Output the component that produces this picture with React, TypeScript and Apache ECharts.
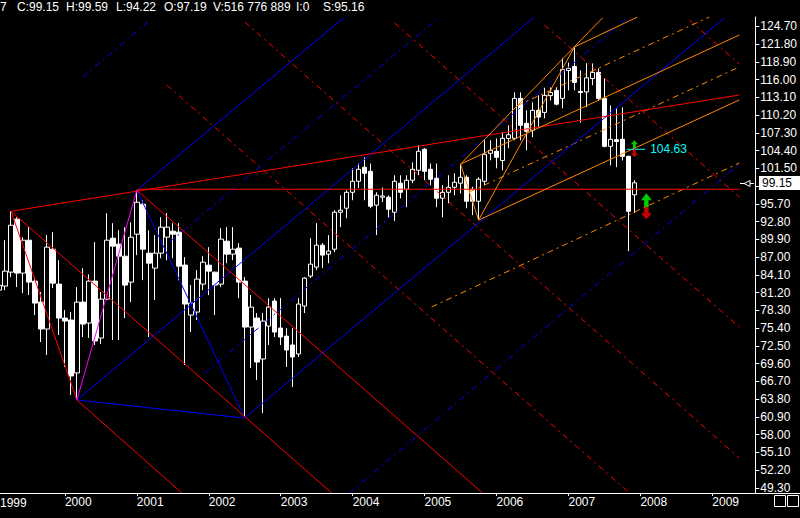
import React, { useEffect, useRef } from "react";
import * as echarts from "echarts";

// Month index: 0 = January 2000, one candle per month
const FIRST_MONTH = -11;

const opens = [
  81.6, 82.27, 84.55, 93.2, 84.39, 89.77, 83.08, 79.65, 75.25, 88.3, 82.59,
  77.04, 76.72, 68.07, 79.65, 76.23, 83.08, 73.78, 80.14, 90.1, 89.12, 87.16, 82.92,
  90.75, 95.65, 87.65, 85.2, 87.65, 90.26, 91.24, 91.08, 85.7, 77.53, 78.02, 82.59,
  85.69, 84.55, 82.59, 89.61, 87.49, 88.47, 83.08, 75.57, 77.04, 70.35, 75.74, 79.82,
  75.41, 74.1, 72.64, 71.17, 79.0, 83.9, 85.37, 88.96, 87.49, 88.3, 94.34, 95.0,
  97.6, 99.4, 101.69, 101.03, 95.49, 96.8, 96.79, 94.34, 99.08, 98.1, 99.57, 101.2,
  104.63, 101.36, 99.9, 96.63, 97.6, 98.42, 99.08, 100.06, 98.1, 96.14, 99.4, 103.97,
  104.3, 102.8, 106.4, 106.42, 112.95, 108.87, 107.73, 111.0, 110.66, 113.4, 114.25, 112.95,
  117.5, 118.17, 114.1, 114.0, 116.2, 117.2, 112.95, 105.11, 106.2, 106.26, 103.48, 97.19,
];
const closes = [
  82.4, 84.71, 92.22, 84.39, 89.77, 82.92, 79.49, 75.25, 88.63, 82.75, 77.04,
  76.55, 67.58, 79.65, 76.06, 83.08, 73.3, 80.14, 89.77, 88.8, 87.16, 82.43, 90.26,
  95.98, 88.3, 86.02, 87.65, 91.9, 91.9, 90.75, 85.53, 79.33, 79.49, 83.41, 86.18,
  84.71, 82.43, 89.94, 87.49, 88.3, 82.92, 75.57, 78.84, 69.86, 76.55, 78.84, 74.76,
  73.94, 71.82, 70.68, 79.33, 83.57, 85.86, 88.96, 87.33, 88.0, 94.34, 94.67, 97.6,
  99.4, 101.36, 100.7, 95.32, 97.12, 97.0, 94.83, 99.4, 97.6, 99.57, 101.36, 104.3,
  101.03, 99.73, 96.63, 97.6, 98.42, 99.24, 100.06, 96.14, 96.14, 99.73, 103.81, 104.46,
  103.32, 106.42, 107.0, 112.95, 108.54, 107.56, 111.0, 109.9, 113.44, 113.9, 112.0, 117.68,
  117.85, 115.56, 113.9, 116.3, 117.2, 112.95, 105.11, 106.26, 105.9, 103.48, 94.5, 99.15,
];
const lows = [
  80.5, 81.6, 83.73, 82.1, 81.12, 80.8, 77.53, 73.13, 71.0, 81.94, 74.27,
  69.05, 64.47, 63.65, 73.94, 73.78, 72.64, 72.8, 79.98, 73.45, 73.45, 77.04, 79.65,
  87.32, 83.24, 73.94, 80.0, 86.83, 86.5, 86.83, 83.24, 69.37, 74.76, 76.72, 81.61,
  80.8, 77.53, 82.1, 86.0, 86.5, 80.3, 60.7, 68.88, 66.92, 61.5, 72.64, 73.94,
  72.64, 69.05, 65.78, 70.68, 77.86, 83.57, 84.88, 85.2, 86.0, 87.8, 91.9, 93.36,
  96.3, 98.3, 96.3, 95.0, 90.6, 96.0, 93.5, 92.9, 96.6, 95.16, 99.08, 100.4,
  99.57, 98.75, 95.16, 93.5, 95.81, 97.1, 97.4, 95.0, 93.85, 93.05, 98.75, 102.83,
  101.52, 101.2, 104.8, 106.1, 106.1, 104.46, 106.6, 108.2, 109.68, 112.6, 111.8, 111.32,
  114.25, 114.25, 109.0, 111.5, 115.1, 112.62, 104.95, 102.0, 101.7, 102.8, 87.98, 94.22,
];
const highs = [
  83.5, 89.77, 94.5, 93.5, 90.26, 91.9, 83.73, 81.3, 90.6, 91.08, 86.5,
  78.35, 78.02, 82.1, 85.2, 84.2, 89.45, 81.3, 94.18, 92.55, 91.4, 91.9, 92.7,
  97.95, 96.3, 91.4, 90.6, 93.53, 94.2, 92.55, 92.55, 87.0, 82.43, 84.88, 87.16,
  88.63, 84.6, 91.73, 91.9, 91.9, 89.3, 83.73, 80.8, 77.86, 77.86, 80.3, 80.3,
  80.3, 75.4, 75.4, 80.3, 83.73, 90.1, 92.55, 89.3, 90.6, 94.67, 97.1, 97.93,
  101.52, 102.3, 103.3, 102.3, 97.6, 98.4, 97.1, 100.38, 100.38, 100.38, 102.5, 105.28,
  104.8, 102.3, 102.3, 98.75, 100.38, 100.7, 102.2, 100.38, 98.5, 100.06, 106.1, 106.1,
  106.4, 107.4, 108.54, 113.93, 113.93, 111.0, 112.3, 113.44, 114.74, 114.74, 114.74, 119.5,
  118.8, 121.35, 117.5, 118.7, 118.66, 117.85, 116.2, 111.8, 111.3, 111.48, 103.6, 99.59,
];

// Axis ticks
const yearTicks = [-12, 0, 12, 24, 36, 48, 60, 72, 84, 96, 108];
const yearLabels = ["1999", "2000", "2001", "2002", "2003", "2004", "2005", "2006", "2007", "2008", "2009"];
const priceTicks = [
  49.3, 52.2, 55.1, 58.0, 60.9, 63.8, 66.7, 69.6, 72.5, 75.4, 78.3, 81.2, 84.1, 87.0,
  89.9, 92.8, 95.7, 98.6, 101.5, 104.4, 107.3, 110.2, 113.1, 116.0, 118.9, 121.8, 124.7,
];

// Header read-out
const headerTexts = ["7", "C:99.15", "H:99.59", "L:94.22", "O:97.19", "V:516 776 889", "I:0", "S:95.16"];

// Swing pivots [month, price]
const pivotA = [-9, 94.5];
const pivotB = [12, 97.95];
const pivotC = [2, 63.65];
const pivotD = [30, 60.7];
const pivotE = [66, 102.2];
const pivotF = [69, 93.05];
const pivotG = [85, 121.35];

// Trend lines [[month, price], [month, price]]
const redSolidLines = [
  [pivotA, [112.5, 113.5]],
  [pivotA, pivotC],
  [pivotB, [69.67, 48.45]],
  [pivotA, [44.5, 48.45]],
  [pivotC, [19.5, 48.45]],
  [[12, 98.1], [112.5, 98.1]],
];
const redDashedLines = [
  [[17, 115.14], [94.17, 48.45]],
  [[30, 125.44], [112.5, 54.17]],
  [[55, 125.27], [112.5, 75.58]],
  [[80, 124.95], [112.5, 96.83]],
  [[104.17, 125.76], [112.5, 118.57]],
];
const blueSolidLines = [
  [pivotB, [46.67, 126.25]],
  [pivotC, [78.33, 126.25]],
  [pivotD, [110, 126.09]],
  [pivotB, pivotD],
  [pivotC, pivotD],
];
const blueDashedLines = [
  [[3, 116.45], [13.83, 125.44]],
  [[17.5, 89.48], [62.5, 126.25]],
  [[23.33, 68.06], [94, 126.25]],
  [[47.5, 48.45], [112.5, 102.23]],
];
const magentaLines = [[pivotC, pivotB]];
const orangeSolidLines = [
  [pivotE, [89.67, 126.1]],
  [pivotF, pivotG],
  [pivotE, pivotF],
  [pivotE, [112.5, 123.31]],
  [pivotF, [112.5, 112.69]],
  [pivotG, [95.5, 126.25]],
];
const orangeDashedLines = [
  [[61.17, 78.85], [112.5, 102.39]],
  [[67.5, 97.65], [112.5, 118.08]],
  [[75.5, 111.78], [107.5, 126.25]],
];

// Signals
const alertMonth = 95;
const alertLevel = 104.63;
const alertLine = [[93.7, 104.63], [96.8, 104.63]];
const stopMonth = 97;
const stopLevel = 95.16;
const lastClose = 99.15;

const FONT = "Liberation Sans";
const DASH = [6, 4, 2, 4];
const UP_ARROW = "path://M5,0L10,6L7,6L7,12L3,12L3,6L0,6Z";
const DOWN_ARROW = "path://M3,0L7,0L7,6L10,6L5,12L0,6L3,6Z";
const X_MIN = -65 / 6;
const X_MAX = 112.5;

function lineSeries(lines: number[][][], color: string, dashed: boolean) {
  return lines.map((pts) => ({
    type: "line",
    data: pts,
    showSymbol: false,
    symbol: "none",
    silent: true,
    z: 3,
    lineStyle: { color, width: 1, type: dashed ? DASH : "solid" },
  }));
}

export default function App() {
  const ref = useRef<HTMLDivElement>(null);

  useEffect(() => {
    document.body.style.margin = "0";
    document.body.style.background = "#000";
    const chart = echarts.init(ref.current!, null, { renderer: "svg" });

    const candleData = opens.map((o, i) => [FIRST_MONTH + i, o, closes[i], lows[i], highs[i]]);
    const yearTicksIn = yearTicks.filter((v) => v >= X_MIN);
    // the close-price box covers the tick label next to it
    const priceLabels = priceTicks.filter((v) => Math.abs(v - lastClose) > 1.2);

    const option: any = {
      animation: false,
      backgroundColor: "#000",
      textStyle: { fontFamily: FONT, fontSize: 12, color: "#fff" },
      grid: { left: 0, right: 60, top: 17, bottom: 25, containLabel: false },
      xAxis: {
        type: "value",
        min: X_MIN,
        max: X_MAX,
        axisLine: { show: false, onZero: false },
        splitLine: { show: false },
        axisTick: { show: true, length: 3, lineStyle: { color: "#fff" }, customValues: yearTicksIn },
        axisLabel: {
          customValues: yearTicksIn,
          color: "#fff",
          fontFamily: FONT,
          fontSize: 12,
          align: "left",
          margin: 3,
          formatter: (v: number) => yearLabels[yearTicks.indexOf(v)] ?? "",
        },
      },
      yAxis: {
        type: "value",
        position: "right",
        offset: 16,
        min: 48.45,
        max: 126.25,
        splitLine: { show: false },
        axisLine: { show: true, onZero: false, lineStyle: { color: "#fff", width: 1 } },
        axisTick: { show: true, length: 4, lineStyle: { color: "#fff" }, customValues: priceTicks },
        axisLabel: {
          customValues: priceLabels,
          color: "#fff",
          fontFamily: FONT,
          fontSize: 12,
          margin: 5,
          formatter: (v: number) => v.toFixed(2),
        },
      },
      series: [
        {
          type: "candlestick",
          data: candleData,
          encode: { x: 0, y: [1, 2, 3, 4] },
          barWidth: 5,
          silent: true,
          z: 2,
          itemStyle: {
            color: "#000",
            color0: "#fff",
            borderColor: "#fff",
            borderColor0: "#fff",
            borderColorDoji: "#fff",
            borderWidth: 1,
          },
        },
        ...lineSeries(redDashedLines, "#ff0000", true),
        ...lineSeries(blueDashedLines, "#0000ff", true),
        ...lineSeries(orangeDashedLines, "#ff8800", true),
        ...lineSeries(blueSolidLines, "#0000ff", false),
        ...lineSeries(redSolidLines, "#ff0000", false),
        ...lineSeries(magentaLines, "#ff00ff", false),
        ...lineSeries(orangeSolidLines, "#ff8800", false),
        ...lineSeries([alertLine], "#00ffff", false),
        {
          type: "scatter",
          silent: true,
          z: 6,
          data: [[alertMonth, alertLevel]],
          symbol: UP_ARROW,
          symbolSize: [7, 8],
          symbolOffset: [0, -5],
          itemStyle: { color: "#00ff00" },
        },
        {
          type: "scatter",
          silent: true,
          z: 6,
          data: [[alertMonth, alertLevel]],
          symbol: DOWN_ARROW,
          symbolSize: [7, 8],
          symbolOffset: [0, 4],
          itemStyle: { color: "#ff0000" },
        },
        {
          type: "scatter",
          silent: true,
          z: 6,
          data: [[stopMonth, stopLevel]],
          symbol: UP_ARROW,
          symbolSize: [11, 14],
          symbolOffset: [0, -7],
          itemStyle: { color: "#00ff00" },
        },
        {
          type: "scatter",
          silent: true,
          z: 6,
          data: [[stopMonth, stopLevel]],
          symbol: DOWN_ARROW,
          symbolSize: [11, 12],
          symbolOffset: [0, 6],
          itemStyle: { color: "#ff0000" },
        },
      ],
    };
    chart.setOption(option);

    const toPx = (t: number, p: number) => chart.convertToPixel({ gridIndex: 0 }, [t, p]) as number[];
    const [, closeY] = toPx(FIRST_MONTH + closes.length - 1, lastClose);
    const [alertX, alertY] = toPx(alertLine[1][0], alertLevel);
    const [firstYearX] = toPx(yearTicks[0], lastClose);
    const headerX = [0, 17, 66, 116, 164, 213, 296, 323];
    const cy = Math.round(closeY) + 0.5;

    chart.setOption({
      graphic: [
        ...headerTexts.map((t, i) => ({
          type: "text",
          x: headerX[i],
          y: 7,
          z: 100,
          style: { text: t, fill: "#fff", font: `12px "${FONT}"`, verticalAlign: "middle" },
        })),
        {
          // first year sits just left of the plot; keep it fully on the page
          type: "text",
          x: Math.max(0, firstYearX + 1),
          y: 497,
          z: 100,
          style: { text: yearLabels[0], fill: "#fff", font: `12px "${FONT}"`, verticalAlign: "top" },
        },
        {
          type: "line",
          z: 100,
          shape: { x1: 0, y1: 493.5, x2: 800, y2: 493.5 },
          style: { stroke: "#fff", lineWidth: 1 },
        },
        {
          type: "rect",
          z: 100,
          shape: { x: 759, y: Math.round(closeY) - 7, width: 41, height: 14 },
          style: { fill: "#fff" },
        },
        {
          type: "text",
          z: 101,
          x: 762,
          y: closeY,
          style: { text: lastClose.toFixed(2), fill: "#000", font: `12px "${FONT}"`, verticalAlign: "middle" },
        },
        {
          type: "polygon",
          z: 100,
          shape: { points: [[744, cy], [750, cy - 3], [750, cy + 3]] },
          style: { fill: "#000", stroke: "#fff", lineWidth: 1 },
        },
        {
          type: "line",
          z: 100,
          shape: { x1: 740, y1: cy, x2: 744, y2: cy },
          style: { stroke: "#fff", lineWidth: 1 },
        },
        {
          type: "line",
          z: 100,
          shape: { x1: 750, y1: cy, x2: 754, y2: cy },
          style: { stroke: "#fff", lineWidth: 1 },
        },
        {
          type: "text",
          z: 100,
          x: alertX + 5,
          y: alertY,
          style: { text: alertLevel.toFixed(2), fill: "#00ffff", font: `12px "${FONT}"`, verticalAlign: "middle" },
        },
        {
          type: "rect",
          z: 100,
          shape: { x: 774.5, y: 495.5, width: 11, height: 11 },
          style: { fill: "none", stroke: "#fff", lineWidth: 1 },
        },
        {
          type: "rect",
          z: 100,
          shape: { x: 787.5, y: 495.5, width: 11, height: 11 },
          style: { fill: "none", stroke: "#fff", lineWidth: 1 },
        },
      ],
    });

    return () => chart.dispose();
  }, []);

  return (
    <div
      ref={ref}
      style={{ width: 800, height: 518, position: "fixed", left: 0, top: 0, background: "#000" }}
    />
  );
}
